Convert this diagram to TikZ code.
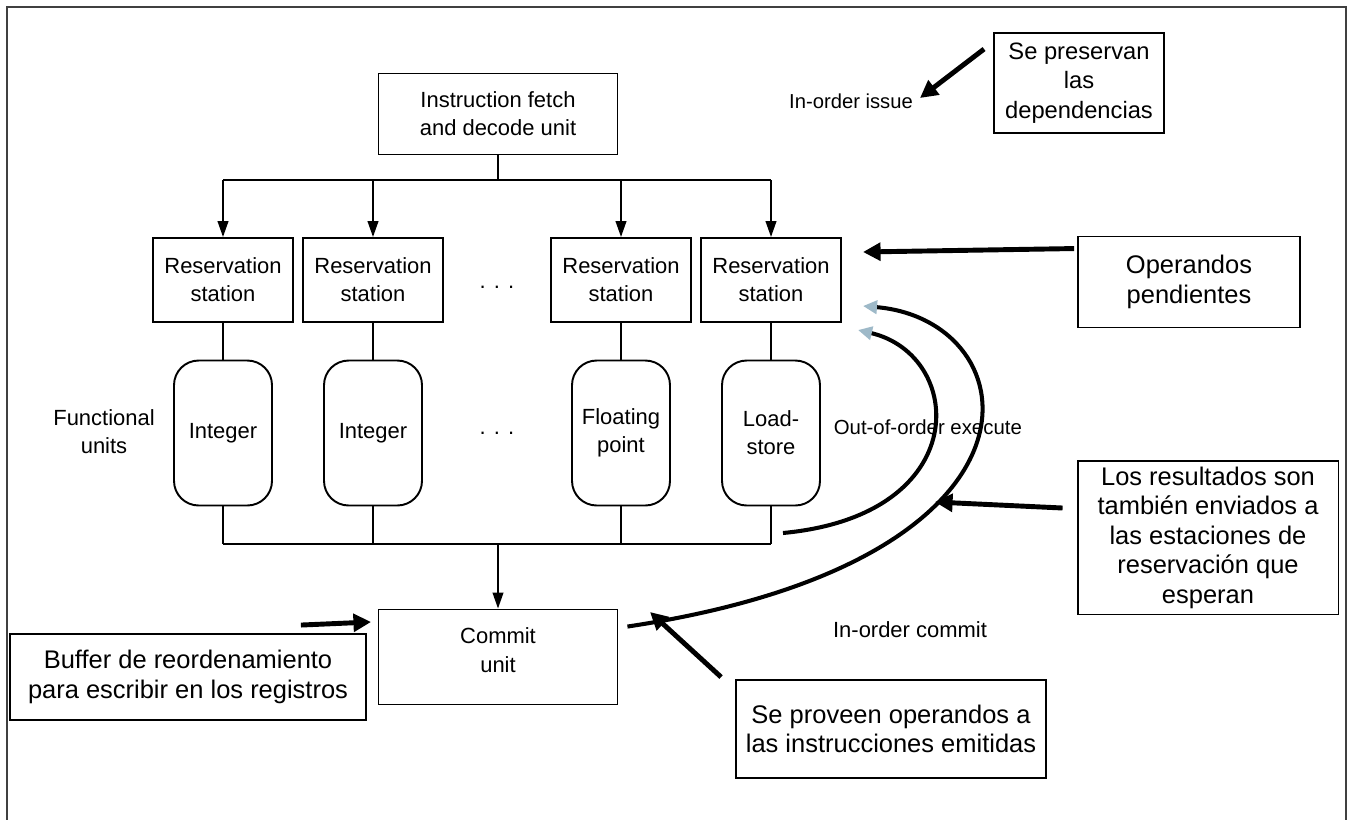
\documentclass[tikz,border=0pt]{standalone}
\usepackage{fontspec}
\setmainfont{Liberation Sans}
\usetikzlibrary{arrows.meta}
\definecolor{tipblue}{RGB}{158,185,200}
\begin{document}
\begin{tikzpicture}[x=0.02cm,y=-0.02cm,line width=1.1pt,
  font=\fontsize{12.5}{16}\selectfont,
  unitbox/.style={draw,align=center,minimum width=2.8cm,minimum height=1.68cm,inner sep=2pt},
  fubox/.style={draw,rounded corners=14pt,align=center,minimum width=1.96cm,minimum height=2.9cm},
  notebox/.style={draw,align=center,font=\fontsize{14.5}{16.8}\selectfont},
  arr/.style={-{Triangle[length=9pt,width=6pt]}},
  bigarr/.style={line width=2.8pt,-{Triangle[length=10pt,width=10pt]}},
  feedback/.style={line width=2.3pt,-{Triangle[length=8pt,width=7.5pt,color=tipblue]}}]
 \useasboundingbox (0,0) rectangle (1348,819);
 \draw[black!75] (7,830) -- (7,7) -- (1346,7) -- (1346,830);
 \node[unitbox,minimum width=4.78cm,minimum height=1.62cm] (ifd) at (498,114) {Instruction fetch\\and decode unit};
    \node[unitbox] (rs1) at (223,280) {Reservation\\station};
    \node[unitbox] (rs2) at (373,280) {Reservation\\station};
    \node[unitbox] (rs3) at (621,280) {Reservation\\station};
    \node[unitbox] (rs4) at (771,280) {Reservation\\station};
    \node (dotsrs) at (497,287) {. . .};
    \node[fubox] (fu1) at (223,433) {Integer};
    \node[fubox] (fu2) at (373,433) {Integer};
    \node[fubox] (fu3) at (621,433) {Floating\\point};
    \node[fubox] (fu4) at (771,433) {Load-\\store};
    \node (dotsfu) at (497,433) {. . .};
    \node[align=center] (fulab) at (104,432) {Functional\\units};
    \node[unitbox,minimum width=4.78cm,minimum height=1.9cm,text depth=8pt] (commit) at (498,657) {Commit\\unit};
    \node[font=\fontsize{11.5}{14}\selectfont] (issue) at (851,101) {In-order issue};
    \node[anchor=west,font=\fontsize{11.6}{14}\selectfont] (ooo) at (827,427) {Out-of-order execute};
    \node (inorder) at (910,630) {In-order commit};
    % notes
    \node[notebox,font=\fontsize{13.5}{16.8}\selectfont,minimum width=3.4cm,minimum height=2cm] (dep) at (1079,83) {Se preservan\\las\\dependencias};
    \node[notebox,minimum width=4.44cm,minimum height=1.82cm] (opd) at (1189,282) {Operandos\\pendientes};
    \node[notebox,minimum width=5.22cm,anchor=north] (res) at (1208,460) {Los resultados son\\también enviados a\\las estaciones de\\reservación que\\esperan};
    \node[notebox,minimum width=7.12cm,minimum height=1.72cm] (rob) at (188,677) {Buffer de reordenamiento\\para escribir en los registros};
    \node[notebox,minimum width=6.2cm,minimum height=1.96cm] (prov) at (891,729) {Se proveen operandos a\\las instrucciones emitidas};
    \coordinate (busin) at (0,180);
    \coordinate (busout) at (0,544);
    \coordinate (issuetip) at (920,98);
    \coordinate (opdtip) at (863,252);
    \coordinate (restip) at (935,502);
    \coordinate (robtip) at (371,622);
    \coordinate (provtip) at (650,612);
    \coordinate (fwdstart) at (783,533);
    \coordinate (fwdtip) at (858,330);
    \coordinate (cmttip) at (863,306);
    \draw (ifd.south) -- (ifd.south |- busin);
    \draw (rs1.north |- busin) -- (rs4.north |- busin);
    \draw [arr] (rs1.north |- busin) -- (rs1.north);
    \draw [arr] (rs2.north |- busin) -- (rs2.north);
    \draw [arr] (rs3.north |- busin) -- (rs3.north);
    \draw [arr] (rs4.north |- busin) -- (rs4.north);
    \draw (rs1.south) -- (fu1.north);
    \draw (rs2.south) -- (fu2.north);
    \draw (rs3.south) -- (fu3.north);
    \draw (rs4.south) -- (fu4.north);
    \draw (fu1.south) -- (fu1.south |- busout);
    \draw (fu2.south) -- (fu2.south |- busout);
    \draw (fu3.south) -- (fu3.south |- busout);
    \draw (fu4.south) -- (fu4.south |- busout);
    \draw (fu1.south |- busout) -- (fu4.south |- busout);
    \draw [arr] (commit.north |- busout) -- (commit.north);
    % result forwarding
    \draw [feedback] (fwdstart) .. controls (975,515) and (965,355) .. (fwdtip);
    \draw [feedback] ([shift={(9,18)}]commit.north east) .. controls (1070,560) and (1030,320) .. (cmttip);
    \draw [bigarr] ([shift={(-9,17)}]dep.north west) -- (issuetip);
    \draw [bigarr] ([shift={(-3,13)}]opd.north west) -- (opdtip);
    \draw [bigarr] ([shift={(-14,48)}]res.north west) -- (restip);
    \draw [bigarr] ([shift={(-66,-8)}]rob.north east) -- (robtip);
    \draw [bigarr] ([shift={(-14,-2)}]prov.north west) -- (provtip);
\end{tikzpicture}
\end{document}
